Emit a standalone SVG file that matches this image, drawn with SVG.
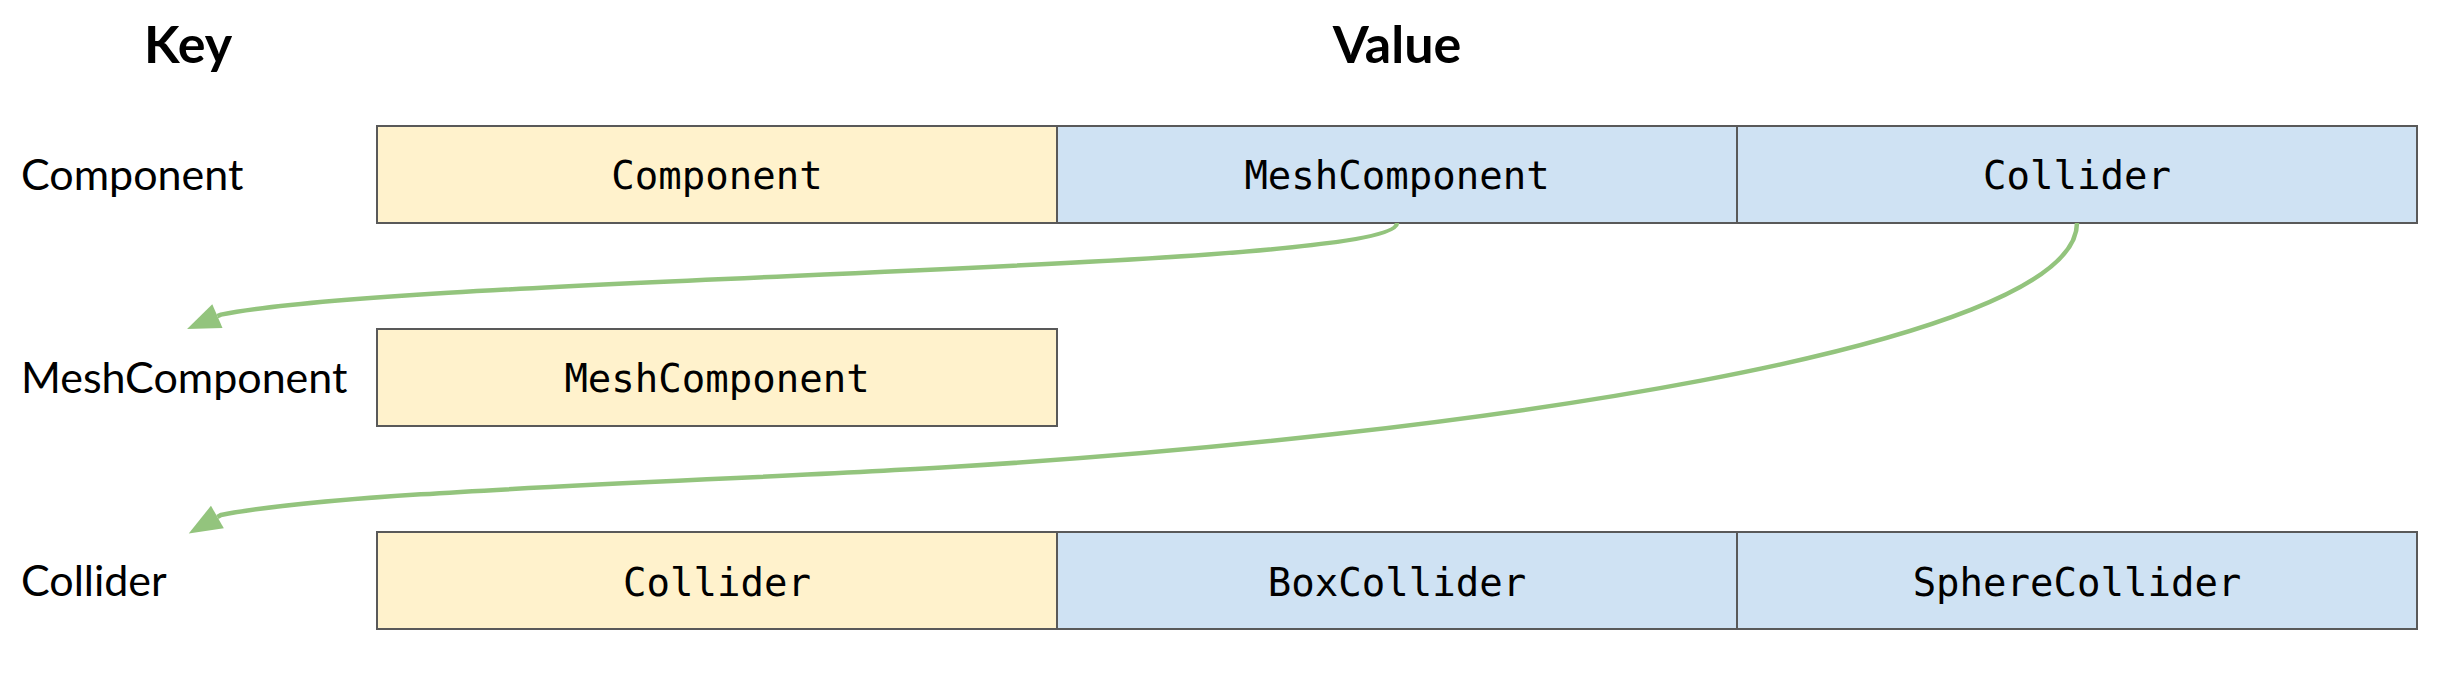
<svg xmlns="http://www.w3.org/2000/svg" width="2457" height="692" viewBox="0 0 2457 692">
<style>
.hdr{font-family:Lato,"Liberation Sans",sans-serif;font-weight:bold;font-size:52px;fill:#000;text-anchor:middle}
.key{font-family:Lato,"Liberation Sans",sans-serif;font-size:43px;fill:#000}
.mono{font-family:"DejaVu Sans Mono","Liberation Mono",monospace;font-size:39px;fill:#000;text-anchor:middle}
.y{fill:#fff2cc;stroke:#595959;stroke-width:2}
.b{fill:#cfe2f3;stroke:#595959;stroke-width:2}
.c{fill:none;stroke:#93c47d;stroke-width:4.5}
</style>
<defs>
<marker id="ah" markerUnits="userSpaceOnUse" markerWidth="34" markerHeight="26" viewBox="0 0 34 26" refX="0" refY="13" orient="auto" overflow="visible">
<path d="M0,0 L33,13 L0,26 Z" fill="#93c47d"/>
</marker>
</defs>
<rect width="2457" height="692" fill="#fff"/>
<text class="hdr" x="188" y="63">Key</text>
<text class="hdr" x="1397" y="63">Value</text>

<g id="key-component"><text class="key" x="21" y="190">Component</text></g>
<g id="key-meshcomponent"><text class="key" x="21" y="393">MeshComponent</text></g>
<g id="key-collider"><text class="key" x="21" y="596">Collider</text></g>

<g id="row1-component"><rect class="y" x="377" y="126" width="680" height="97"/><text class="mono" x="717" y="189">Component</text></g>
<g id="row1-meshcomponent"><rect class="b" x="1057" y="126" width="680" height="97"/><text class="mono" x="1397" y="189">MeshComponent</text></g>
<g id="row1-collider"><rect class="b" x="1737" y="126" width="680" height="97"/><text class="mono" x="2077" y="189">Collider</text></g>

<g id="row2-meshcomponent"><rect class="y" x="377" y="329" width="680" height="97"/><text class="mono" x="717" y="392">MeshComponent</text></g>

<g id="row3-collider"><rect class="y" x="377" y="532" width="680" height="97"/><text class="mono" x="717" y="596">Collider</text></g>
<g id="row3-boxcollider"><rect class="b" x="1057" y="532" width="680" height="97"/><text class="mono" x="1397" y="596">BoxCollider</text></g>
<g id="row3-spherecollider"><rect class="b" x="1737" y="532" width="680" height="97"/><text class="mono" x="2077" y="596">SphereCollider</text></g>

<g id="connectors">
<path class="c" d="M1397,223 C1397,270.7 417.1,275.5 220.9,314.6 L217.4,316.1" marker-end="url(#ah)"/>
<path class="c" d="M2077,223 C2077,348 1450,437 950,467 C700,482 341,491 221,515 L217.4,517.05" marker-end="url(#ah)"/>
</g>
</svg>
